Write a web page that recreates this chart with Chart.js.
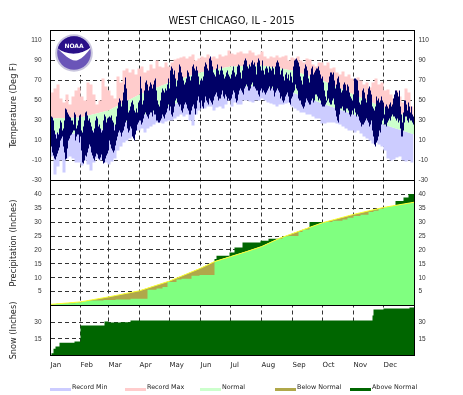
<!DOCTYPE html>
<html>
<head>
<meta charset="utf-8">
<title>WEST CHICAGO, IL - 2015</title>
<script src="https://cdn.jsdelivr.net/npm/chart.js@4/dist/chart.umd.min.js"></script>
<style>
  html, body { margin: 0; background: #fff; }
  canvas { display: block; }
</style>
</head>
<body>
<canvas id="climate-chart" width="463" height="395"></canvas>
<script>
const monthLabels = ["Jan", "Feb", "Mar", "Apr", "May", "Jun", "Jul", "Aug", "Sep", "Oct", "Nov", "Dec"];
const monthDays = [1, 31, 59, 90, 120, 151, 181, 212, 243, 273, 304, 334];
const tempTicks = [-30, -10, 10, 30, 50, 70, 90, 110];
const precipTicks = [5, 10, 15, 20, 25, 30, 35, 40];
const snowTicks = [15, 30];
const legendNames = ["Record Min", "Record Max", "Normal", "Below Normal", "Above Normal"];

// observed daily high / low, deg F
const obsHigh = [
  34,34,33,30,20,16,12,18,16,22,30,28,20,22,30,42,41,38,36,34,33,30,30,26,38,36,22,25,30,35,36,
  20,18,24,30,38,39,35,30,32,28,24,20,18,22,30,34,32,24,26,22,18,20,30,36,34,28,32,33,
  34,33,35,30,28,20,26,34,42,48,52,50,44,50,58,66,73,62,50,38,40,44,48,50,46,40,38,42,38,48,50,
  74,62,46,50,60,68,70,66,60,64,68,66,62,66,70,72,60,50,46,44,50,58,62,60,58,62,60,66,72,62,
  80,84,82,76,80,72,64,70,78,86,84,78,74,70,66,68,72,80,78,74,70,74,84,86,82,80,84,80,74,66,70,
  72,70,74,84,88,86,82,80,92,94,90,84,78,76,74,82,86,80,76,80,84,80,76,72,74,78,80,76,74,72,
  76,80,84,78,74,76,84,86,85,78,72,80,86,90,92,90,84,82,86,84,88,90,86,88,84,76,88,92,90,84,80,
  90,80,76,82,84,82,78,84,82,80,84,82,76,84,88,90,88,84,76,80,82,74,70,76,78,72,76,70,78,74,68,
  84,90,91,92,90,88,84,74,70,66,74,82,86,84,80,72,68,76,82,84,76,78,80,82,82,84,80,76,72,74,
  68,60,54,50,60,68,74,78,78,76,78,70,62,66,72,74,68,62,58,60,66,68,66,60,66,64,58,54,52,50,56,
  72,72,71,70,60,48,46,50,60,62,58,52,48,56,62,64,60,56,44,42,40,44,54,50,52,48,50,54,50,48,
  36,44,46,44,42,46,48,44,46,52,56,60,60,58,54,60,44,36,28,38,50,50,46,40,48,44,38,44,36,34,34
];
const obsLow = [
  14,4,-2,-5,-8,-9,-6,-3,0,3,10,12,14,4,-2,-9,-8,2,10,12,15,16,18,20,20,10,14,16,16,8,14,
  0,-12,-13,-10,-5,-6,-2,2,6,4,-2,-5,-8,-10,-6,-3,-4,-8,-9,-7,-4,-10,-13,-12,-8,-5,-3,0,
  10,6,2,0,-2,0,5,10,14,18,20,18,14,18,20,24,28,30,22,18,20,24,22,14,12,10,16,20,26,28,30,
  30,26,28,32,36,38,36,34,32,36,38,38,34,40,36,36,30,30,28,28,30,32,36,34,32,36,38,42,46,40,
  44,36,34,38,44,50,52,48,46,44,46,40,38,42,46,48,46,42,40,36,36,40,44,46,42,36,42,50,54,48,42,
  50,44,42,48,54,50,48,46,52,50,48,46,50,54,56,58,54,50,52,52,56,60,54,52,56,54,50,52,50,50,
  52,56,60,58,52,48,50,56,60,62,60,58,56,62,64,66,64,60,60,62,66,68,64,64,62,60,60,56,54,60,62,
  58,60,58,56,58,60,62,64,60,62,64,60,54,58,60,62,60,58,52,54,50,48,50,54,56,58,54,48,46,52,54,
  58,60,66,62,60,52,50,50,46,44,42,44,48,52,50,48,46,46,50,52,48,50,56,56,54,50,52,50,46,44,
  44,44,46,48,50,52,48,46,46,50,52,46,40,34,30,28,36,42,42,44,40,40,38,42,42,40,36,34,36,40,36,
  42,38,34,36,34,30,28,24,26,26,28,30,32,30,28,24,26,30,20,14,6,4,8,10,14,20,18,26,30,32,
  26,26,24,28,30,32,30,34,36,34,34,32,30,32,28,30,22,14,14,20,28,34,34,30,28,32,30,30,28,26,24
];

// record values, read every third day
const recordStep = 3;
const recordMax = [
  58,62,66,52,48,56,46,54,60,63, 54,50,68,66,56,46,50,72,64,60,
  55,52,74,68,80,82,78,81,76,82, 84,78,80,86,82,90,84,83,88,84,
  88,91,92,93,94,92,94,96,90,92, 94,93,96,93,94,92,96,94,95,100,
  97,96,98,99,97,97,100,98,95,96, 99,94,92,94,93,95,93,94,95,90,
  93,92,94,90,88,92,91,86,84,88, 88,85,88,82,83,78,76,79,74,76,
  72,70,73,70,66,68,63,68,72,66, 68,60,61,56,52,60,54,48,62,58,44,40
];
const recordMin = [
  -6,-24,-16,-10,-22,-8,-6,-8,-12,-12, -15,-10,-14,-20,-12,-8,-10,-8,-12,-14,
  -11,-8,0,4,8,10,12,14,20,20, 22,18,22,24,26,28,28,27,29,30,
  30,32,34,36,34,36,30,25,36,40, 42,42,44,44,40,43,44,42,46,50,
  44,48,46,46,50,50,49,48,50,50, 52,50,48,47,46,44,46,46,47,48,
  44,42,40,38,38,36,36,34,32,32, 27,27,28,28,28,27,26,24,22,20,
  20,18,20,17,14,12,10,7,8,6, 4,0,-8,-10,-9,-7,-6,-10,-11,-10,-12,-10
];

// normals at the month boundaries
const normalDays = [1, 31, 59, 90, 120, 151, 181, 212, 243, 273, 304, 334, 365];
const normalHigh = [32, 33, 40, 56, 68, 78, 84, 85, 80, 70, 56, 43, 32];
const normalLow = [17, 17, 22, 34, 45, 55, 63, 65, 58, 47, 36, 26, 16];
const precipNormalDays = [1, 31, 59, 90, 120, 151, 165, 181, 197, 212, 230, 243, 273, 304, 334, 365];
const precipNormal = [0.4, 1.3, 3.1, 5.3, 8.8, 13.4, 15.8, 17.6, 19.4, 21.2, 24.2, 25.9, 29.8, 32.8, 35.3, 37.2];

// accumulated precipitation and snow: day the total changed, new total
const precipDays = [1, 7, 17, 26, 32, 42, 54, 66, 81, 98, 107, 113, 118, 127, 132, 142, 150, 165, 167, 180, 185, 193, 211, 219, 233, 239, 249, 253, 260, 283, 293, 298, 304, 311, 319, 324, 329, 334, 341, 346, 354, 359];
const precipTotal = [0.5, 0.6, 0.8, 1.1, 1.6, 1.8, 2.0, 2.2, 2.4, 5.7, 6.1, 6.7, 8.5, 9.4, 9.6, 10.7, 11, 16.7, 17.9, 19.1, 20.9, 22.7, 23.3, 24, 24.9, 25, 26.5, 27.4, 30.1, 30.5, 31, 31.6, 32.2, 32.7, 33.7, 34.1, 34.7, 35.5, 35.8, 37.6, 38.9, 40.1];
const snowDays = [1, 2, 4, 6, 10, 25, 31, 55, 59, 71, 81, 323, 324, 334, 360];
const snowTotal = [0, 2, 6, 8, 11.4, 12.6, 27, 30.6, 29.7, 30, 31.5, 36, 41.4, 42.3, 43.2];

const lastDay = 365;
const toPoints = (days, vals) => vals.map((v, i) => ({ x: days[i], y: v }));
const withEnd = (pts) => pts.concat([{ x: lastDay, y: pts[pts.length - 1].y }]);
const everyStep = (vals) => vals.map((v, i) => ({ x: Math.min(1 + i * recordStep, lastDay), y: v }));

const lineBase = { type: "line", borderWidth: 0, pointRadius: 0, tension: 0 };

const datasets = [
  { type: "bar", yAxisID: "yTemp", order: 1, backgroundColor: "#000066", barPercentage: 1, categoryPercentage: 1, inflateAmount: 0,
    data: obsLow.map((lo, i) => ({ x: i + 1, y: [lo, obsHigh[i]] })) },
  { ...lineBase, yAxisID: "yTemp", order: 2, data: toPoints(normalDays, normalHigh), fill: 2, backgroundColor: "#ccffcc" },
  { ...lineBase, yAxisID: "yTemp", order: 2, data: toPoints(normalDays, normalLow), fill: false },
  { ...lineBase, yAxisID: "yTemp", order: 3, stepped: "before", data: everyStep(recordMax), fill: 1, backgroundColor: "#ffcccc" },
  { ...lineBase, yAxisID: "yTemp", order: 3, stepped: "before", data: everyStep(recordMin), fill: 2, backgroundColor: "#ccccff" },
  { ...lineBase, yAxisID: "yPrecip", order: 4, data: toPoints(precipNormalDays, precipNormal), borderWidth: 1, borderColor: "#ffff33", fill: false },
  { ...lineBase, yAxisID: "yPrecip", order: 5, stepped: "before", data: withEnd(toPoints(precipDays, precipTotal)),
    fill: { target: 7, above: "#006600", below: "#b0a84a" } },
  { ...lineBase, yAxisID: "yPrecip", order: 6, data: toPoints(precipNormalDays, precipNormal), fill: "origin", backgroundColor: "#80ff80" },
  { ...lineBase, yAxisID: "ySnow", order: 4, stepped: "before", data: withEnd(toPoints(snowDays, snowTotal)), fill: "origin", backgroundColor: "#006600" }
];

const tickFont = { family: "'Liberation Sans'", size: 6.5 };
const titleFont = { family: "'DejaVu Sans'", size: 8.2 };
const grid = { color: "#333", lineWidth: 1, drawTicks: false };
const gridDash = [4, 3];

function yAxis(position, weight, stackWeight, min, max, ticks, titleText) {
  const left = position === "left";
  return {
    type: "linear", position, stack: position, stackWeight, weight, min, max, z: 1,
    afterBuildTicks: (s) => { s.ticks = ticks.map((v) => ({ value: v })); },
    afterFit: (s) => { s.width = left ? 50.5 : 48.5; },
    border: { display: false, dash: gridDash },
    grid: { ...grid, display: left },
    ticks: { font: tickFont, color: "#333", padding: left ? 9 : 4, autoSkip: false },
    title: titleText ? { display: true, text: titleText, font: titleFont, color: "#222", padding: { top: 9, bottom: 0 } } : { display: false }
  };
}

// panel frames, legend and the NOAA emblem
const decorations = {
  id: "decorations",
  afterDraw(chart) {
    const { ctx, chartArea: a, scales } = chart;
    ctx.save();
    ctx.strokeStyle = "#000";
    ctx.lineWidth = 1;
    ctx.strokeRect(a.left, a.top, a.right - a.left, a.bottom - a.top);
    [scales.yTemp.bottom, scales.yPrecip.bottom].forEach((y) => {
      ctx.beginPath();
      ctx.moveTo(a.left, Math.floor(y) + 0.5);
      ctx.lineTo(a.right, Math.floor(y) + 0.5);
      ctx.stroke();
    });

    const swatches = ["#ccccff", "#ffcccc", "#ccffcc", "#b0a84a", "#006600"];
    ctx.font = "6.4px 'DejaVu Sans'";
    ctx.textBaseline = "middle";
    legendNames.forEach((name, i) => {
      const x = 50 + i * 75;
      ctx.fillStyle = swatches[i];
      ctx.fillRect(x, 388, 21, 3);
      ctx.fillStyle = "#222";
      ctx.fillText(name, x + 22, 387.5);
    });

    const cx = 74, cy = 53, r = 18.3;
    ctx.fillStyle = "#fff";
    ctx.fillRect(55, 32, 40, 43);
    ctx.beginPath();
    ctx.arc(cx, cy, r + 0.5, 0, Math.PI * 2);
    ctx.fillStyle = "#c9c6de";
    ctx.fill();
    ctx.beginPath();
    ctx.arc(cx, cy, r - 1.5, 0, Math.PI * 2);
    ctx.fillStyle = "#6a55b8";
    ctx.fill();
    ctx.save();
    ctx.clip();
    ctx.beginPath();
    ctx.moveTo(cx - r, cy - 6);
    ctx.bezierCurveTo(cx - 8, cy + 3, cx + 8, cy + 3, cx + r, cy - 7);
    ctx.lineTo(cx + r, cy - r);
    ctx.lineTo(cx - r, cy - r);
    ctx.closePath();
    ctx.fillStyle = "#2a1088";
    ctx.fill();
    ctx.beginPath();
    ctx.moveTo(cx - r, cy - 6);
    ctx.bezierCurveTo(cx - 10, cy + 1, cx - 3, cy + 10, cx + 4, cy + 7);
    ctx.bezierCurveTo(cx + 9, cy + 5, cx + 13, cy, cx + r, cy - 7);
    ctx.bezierCurveTo(cx + 8, cy + 3, cx - 8, cy + 3, cx - r, cy - 6);
    ctx.fillStyle = "#fff";
    ctx.fill();
    ctx.restore();
    ctx.fillStyle = "#fff";
    ctx.font = "bold 6px 'DejaVu Sans'";
    ctx.textAlign = "center";
    ctx.fillText("NOAA", cx, cy - 7);
    ctx.restore();
  }
};

new Chart(document.getElementById("climate-chart"), {
  type: "bar",
  data: { datasets },
  plugins: [decorations],
  options: {
    responsive: false,
    animation: false,
    devicePixelRatio: 1,
    layout: { padding: 0 },
    plugins: {
      legend: { display: false },
      tooltip: { enabled: false },
      title: {
        display: true,
        text: "WEST CHICAGO, IL - 2015",
        color: "#111",
        font: { family: "'DejaVu Sans'", size: 9.8, weight: "normal", lineHeight: 1.2 },
        padding: { top: 16, bottom: 2.74 }
      }
    },
    scales: {
      x: {
        type: "linear", min: 1, max: lastDay, offset: false, z: 1,
        afterBuildTicks: (s) => { s.ticks = monthDays.map((v) => ({ value: v })); },
        afterFit: (s) => { s.height = 39.5; },
        border: { display: false, dash: gridDash },
        grid: { ...grid, offset: false },
        ticks: {
          font: { family: "'DejaVu Sans'", size: 7 }, color: "#222", align: "start", padding: 5,
          maxRotation: 0, autoSkip: false,
          callback: (v, i) => monthLabels[i]
        }
      },
      yTemp: yAxis("left", 3, 150, -30, 120, tempTicks, "Temperature (Deg F)"),
      yPrecip: yAxis("left", 2, 125, 0, 45, precipTicks, "Precipitation (Inches)"),
      ySnow: yAxis("left", 1, 50, 0, 45, snowTicks, "Snow (Inches)"),
      yTempR: yAxis("right", 1, 150, -30, 120, tempTicks),
      yPrecipR: yAxis("right", 2, 125, 0, 45, precipTicks),
      ySnowR: yAxis("right", 3, 50, 0, 45, snowTicks)
    }
  }
});
</script>
</body>
</html>
